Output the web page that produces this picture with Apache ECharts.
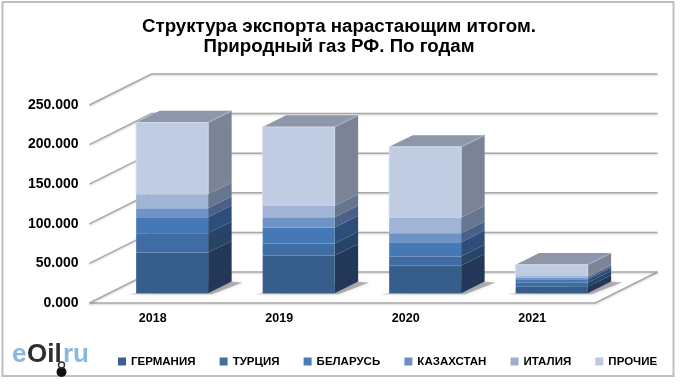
<!DOCTYPE html>
<html><head><meta charset="utf-8">
<style>html,body{margin:0;padding:0;background:#fff}#c{width:680px;height:384px}</style>
<script src="https://cdn.jsdelivr.net/npm/echarts@6/dist/echarts.min.js"></script>
</head><body><div id="c"></div>
<script>
const years = ['2018','2019','2020','2021'];
const germany    = [51400, 47600, 35000, 8400];
const turkey     = [24400, 15200, 11400, 5000];
const belarus    = [20200, 20200, 18100, 4200];
const kazakhstan = [11400, 13000, 11400, 2500];
const italy      = [17700, 14300, 19800, 1700];
const others     = [90500, 99700, 89200, 14300];
const gridTicks  = [0, 50000, 100000, 150000, 200000, 250000];
const names      = ['ГЕРМАНИЯ','ТУРЦИЯ','БЕЛАРУСЬ','КАЗАХСТАН','ИТАЛИЯ','ПРОЧИЕ'];
const groups     = [germany, turkey, belarus, kazakhstan, italy, others];
const frontCols  = ['#375d8a','#3f6ca2','#4579b5','#7093c6','#a0b4d6','#c0cce2'];
const sideCols   = ['#233858','#274366','#2c4e78','#4a6088','#66768f','#7b8494'];
const legendCols = ['#3f638f','#44709f','#4a7cb4','#6f8fbd','#a0b0cc','#bcc8dc'];

const WALL_DX = 62, WALL_DY = -31;
const MID_DX = 19.4, MID_DY = -9.7;
const DEPTH_DX = 23.5, DEPTH_DY = -11.7;
const BAR_W = 72;
const FONT = '"Liberation Sans", Arial, sans-serif';

function wallItem(params, api) {
  const v = api.value(0);
  const cs = params.coordSys;
  const y = api.coord([0, v])[1];
  const x0 = cs.x, x1 = cs.x + cs.width;
  const shapeLine = [];
  if (v === 0) {
    shapeLine.push([[x0, y], [x1, y], [x1 + WALL_DX, y + WALL_DY]]);
  }
  shapeLine.push([[x0, y], [x0 + WALL_DX, y + WALL_DY], [x1 + WALL_DX, y + WALL_DY]]);
  return {type: 'group', children: shapeLine.map(p => ({
    type: 'polyline', shape: {points: p},
    style: {stroke: '#a8a8a8', lineWidth: 1.5, fill: null, shadowColor: 'rgba(0,0,0,0.18)', shadowBlur: 2, shadowOffsetY: 1}
  }))};
}

function shadowItem(params, api) {
  const c = api.coord([api.value(0), 0]);
  const x = c[0] + MID_DX - BAR_W / 2, y = c[1] + MID_DY;
  return {type: 'polygon', shape: {points: [
    [x - 8, y + 1], [x + BAR_W + 4, y + 1], [x + BAR_W + DEPTH_DX + 11, y + DEPTH_DY + 1], [x + BAR_W + DEPTH_DX - 4, y + DEPTH_DY]
  ]}, style: {fill: 'rgba(80,80,80,0.4)', shadowColor: 'rgba(80,80,80,0.45)', shadowBlur: 4}};
}

function makeBar(si) {
  return function (params, api) {
    const cat = api.value(0), lo = api.value(1), hi = api.value(2);
    const cLo = api.coord([cat, lo]), cHi = api.coord([cat, hi]);
    const xL = cLo[0] + MID_DX - BAR_W / 2, xR = xL + BAR_W;
    const yB = cLo[1] + MID_DY, yT = cHi[1] + MID_DY;
    const ch = [
      {type: 'polygon', shape: {points: [[xR, yB], [xR + DEPTH_DX, yB + DEPTH_DY], [xR + DEPTH_DX, yT + DEPTH_DY], [xR, yT]]},
       style: {fill: sideCols[si]}},
      {type: 'rect', shape: {x: xL, y: yT, width: BAR_W, height: yB - yT}, style: {fill: frontCols[si]}}
    ];
    if (si === groups.length - 1) {
      ch.push({type: 'polygon', shape: {points: [[xL, yT], [xR, yT], [xR + DEPTH_DX, yT + DEPTH_DY], [xL + DEPTH_DX, yT + DEPTH_DY]]},
        style: {fill: '#8e97a9'}});
      ch.push({type: 'polyline', shape: {points: [[xR, yT], [xR + DEPTH_DX, yT + DEPTH_DY]]},
        style: {stroke: '#a3b3cf', lineWidth: 1.2, fill: null}});
      ch.push({type: 'polyline', shape: {points: [[xL, yB], [xL, yT], [xR, yT], [xR, yB]]},
        style: {stroke: '#d3dbea', lineWidth: 1, fill: null}});
    }
    return {type: 'group', children: ch};
  };
}

const series = [
  {type: 'custom', name: '_wall', silent: true, z: 1, renderItem: wallItem, data: gridTicks.map(v => [v]), encode: {y: 0}},
  {type: 'custom', name: '_shadow', silent: true, z: 2, renderItem: shadowItem, data: years.map((y, i) => [i]), encode: {x: 0}}
];
groups.forEach((vals, si) => {
  series.push({
    type: 'custom', name: names[si], z: 3 + si, renderItem: makeBar(si),
    itemStyle: {color: legendCols[si]},
    encode: {x: 0, y: [1, 2]},
    data: vals.map((v, i) => {
      let base = 0;
      for (let k = 0; k < si; k++) base += groups[k][i];
      return [i, base, base + v];
    })
  });
});

const chart = echarts.init(document.getElementById('c'), null, {renderer: 'canvas'});
chart.setOption({
  animation: false,
  backgroundColor: '#fff',
  textStyle: {fontFamily: FONT},
  legend: {
    left: 118, top: 355.5, width: 560, itemGap: 24.2, itemWidth: 8, itemHeight: 8, icon: 'rect', padding: 0,
    data: names, selectedMode: false,
    textStyle: {fontFamily: FONT, fontSize: 11.5, fontWeight: 'bold', color: '#000'}
  },
  grid: {left: 89.5, top: 105, width: 506, height: 198},
  xAxis: {type: 'category', data: years, axisLine: {show: false}, axisTick: {show: false}, splitLine: {show: false},
    axisLabel: {fontSize: 12.5, fontWeight: 'bold', color: '#000', margin: 9, fontFamily: FONT}},
  yAxis: {type: 'value', min: 0, max: 250000, interval: 50000, axisLine: {show: false}, axisTick: {show: false}, splitLine: {show: false},
    axisLabel: {fontSize: 14, fontWeight: 'bold', color: '#000', margin: 11, fontFamily: FONT,
      formatter: v => v === 0 ? '0.000' : (v / 1000) + '.000'}},
  graphic: [
    {type: 'rect', silent: true, z: 0, shape: {x: 2.5, y: 2, width: 671, height: 374}, style: {fill: 'none', stroke: '#bfbfbf', lineWidth: 2}},
    {type: 'text', silent: true, x: 339, y: 17, style: {text: 'Структура экспорта нарастающим итогом.', align: 'center', fill: '#000', font: 'bold 18.7px ' + FONT}},
    {type: 'text', silent: true, x: 339, y: 37, style: {text: 'Природный газ РФ. По годам', align: 'center', fill: '#000', font: 'bold 18.7px ' + FONT}},
    {type: 'text', silent: true, x: 12, y: 342, style: {text: 'e', fill: '#86b8e0', font: 'bold 26px ' + FONT}},
    {type: 'text', silent: true, x: 27, y: 342, style: {text: 'Oil', fill: '#2f2f2f', font: 'bold 26px ' + FONT}},
    {type: 'text', silent: true, x: 63, y: 342, style: {text: 'ru', fill: '#86b8e0', font: 'bold 26px ' + FONT}},
    {type: 'circle', silent: true, shape: {cx: 61.5, cy: 372, r: 5}, style: {fill: '#111'}},
    {type: 'circle', silent: true, shape: {cx: 61.5, cy: 365, r: 3}, style: {fill: 'none', stroke: '#333', lineWidth: 1.5}}
  ],
  series: series
});
</script></body></html>
